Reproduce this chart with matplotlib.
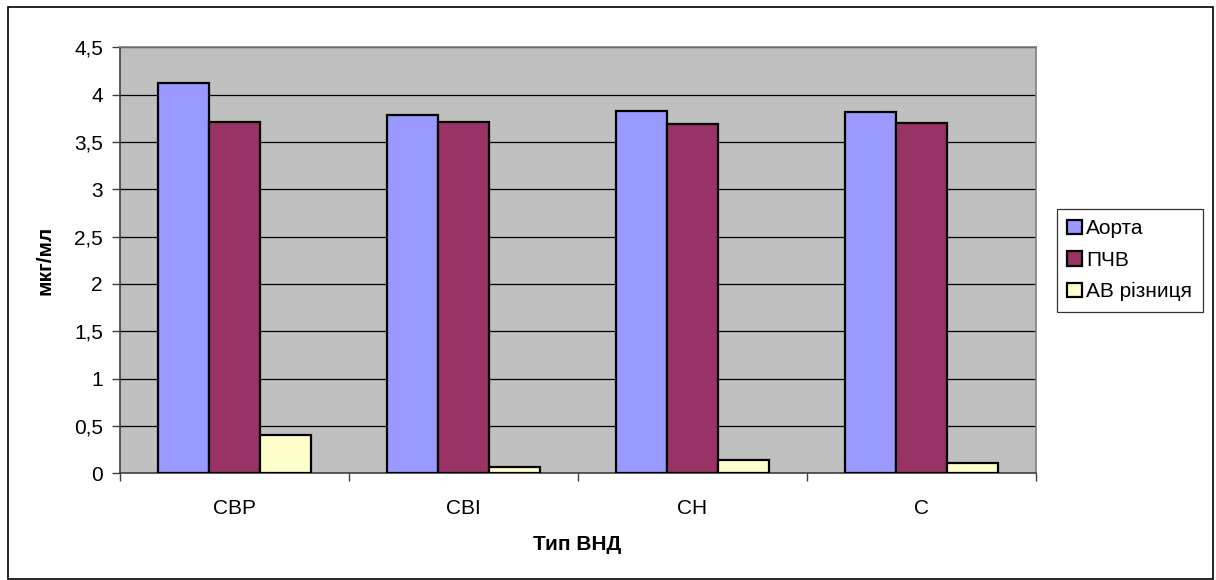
import matplotlib
matplotlib.use("Agg")
import matplotlib.pyplot as plt
from matplotlib.patches import Rectangle
import numpy as np

plt.rcParams['font.family'] = ['Liberation Sans', 'DejaVu Sans']

categories = ["СВР", "СВІ", "СН", "С"]
series_names = ["Аорта", "ПЧВ", "АВ різниця"]
aorta = [4.12, 3.79, 3.83, 3.82]
pchv = [3.71, 3.71, 3.69, 3.70]
av_diff = [0.40, 0.07, 0.14, 0.11]
yticks = [0, 0.5, 1, 1.5, 2, 2.5, 3, 3.5, 4, 4.5]
ytick_labels = ["0", "0,5", "1", "1,5", "2", "2,5", "3", "3,5", "4", "4,5"]

colors = ["#9999FF", "#993366", "#FFFFCC"]
FS = 15

W, H = 1216, 580
fig = plt.figure(figsize=(W / 100, H / 100), dpi=100)

# outer chart frame
fig.patches.append(Rectangle((8 / W, 1 - 579 / H), (1213 - 8) / W, (579 - 7) / H,
                             transform=fig.transFigure, fill=False,
                             edgecolor="black", linewidth=1.2))

left, right, top, bottom = 120, 1036, 47.3, 473.3
ax = fig.add_axes([left / W, 1 - bottom / H, (right - left) / W, (bottom - top) / H])
ax.set_facecolor("#C0C0C0")

x = np.arange(len(categories))
bw = 1 / 4.5
for i, (vals, name) in enumerate(zip([aorta, pchv, av_diff], series_names)):
    ax.bar(x + (i - 1) * bw, vals, width=bw, color=colors[i], edgecolor="black",
           linewidth=1.6, label=name, zorder=3)

ax.set_xlim(-0.5, len(categories) - 0.5)
ax.set_ylim(0, 4.5)
ax.set_yticks(yticks)
ax.set_yticklabels(ytick_labels, fontsize=FS)
ax.yaxis.grid(True, color="black", linewidth=0.9, zorder=1)
ax.set_axisbelow(True)

# category ticks sit on the boundaries, labels in the middle
ax.set_xticks(np.arange(len(categories) + 1) - 0.5)
ax.set_xticklabels([])
ax.set_xticks(x, minor=True)
ax.set_xticklabels(categories, minor=True, fontsize=FS)
ax.tick_params(axis="x", which="minor", length=0, pad=18.5)
ax.tick_params(axis="x", which="major", length=5.5, width=1, color="#404040", direction="out")
ax.tick_params(axis="y", length=5.8, width=1, color="#404040", direction="out", pad=6.5)

for side in ["top", "right"]:
    ax.spines[side].set_color("#808080")
    ax.spines[side].set_linewidth(1.2)
for side in ["left", "bottom"]:
    ax.spines[side].set_color("#404040")
    ax.spines[side].set_linewidth(1.2)

ax.set_ylabel("мкг/мл", fontsize=FS, fontweight="bold", va="center")
ax.yaxis.set_label_coords((45 - left) / (right - left), 0.5)
ax.set_xlabel("Тип ВНД", fontsize=FS, fontweight="bold", va="center")
ax.xaxis.set_label_coords((577 - left) / (right - left), -(545 - bottom) / (bottom - top))

leg = fig.legend(loc="upper left", bbox_to_anchor=(1057 / W, 1 - 209 / H),
                 fontsize=FS, frameon=True, fancybox=False, shadow=False,
                 handlelength=0.7, handleheight=0.7, handletextpad=0.2,
                 borderpad=0.5, labelspacing=0.6, borderaxespad=0)
leg.get_frame().set_edgecolor("black")
leg.get_frame().set_linewidth(0.9)
for h in leg.legend_handles:
    h.set_linewidth(1.6)

fig.savefig("out.png", dpi=100)
